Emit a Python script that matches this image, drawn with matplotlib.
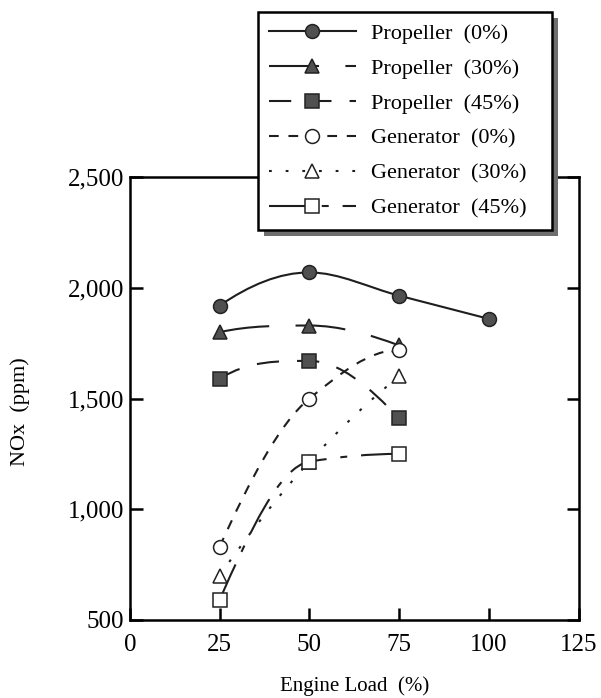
import numpy as np
import matplotlib
matplotlib.use('Agg')
import matplotlib.pyplot as plt
from matplotlib.path import Path
from matplotlib.patches import PathPatch, Rectangle
from matplotlib.lines import Line2D

plt.rcParams['font.family'] = ['Liberation Serif', 'DejaVu Serif']
plt.rcParams['lines.scale_dashes'] = False

# ============================================================
# DATA
# ============================================================
load = [25, 50, 75, 100]
prop_0 = [1920, 2070, 1965, 1860]
prop_30 = [1800, 1830, 1740]
prop_45 = [1590, 1670, 1410]
gen_0 = [830, 1500, 1720]
gen_30 = [700, 1215, 1600]
gen_45 = [590, 1215, 1250]

labels = ['Propeller  (0%)', 'Propeller  (30%)', 'Propeller  (45%)',
          'Generator  (0%)', 'Generator  (30%)', 'Generator  (45%)']
xticks = [0, 25, 50, 75, 100, 125]
yticks = [500, 1000, 1500, 2000, 2500]

line_col = '#1e1e1e'
fill_col = '#505050'


def smooth_path(xs, ys):
    # monotone (pchip-like) tangents, drawn by matplotlib as cubic Bezier segments
    x = np.asarray(xs, float)
    y = np.asarray(ys, float)
    h = np.diff(x)
    d = np.diff(y) / h
    n = len(x)
    m = np.zeros(n)
    for i in range(1, n - 1):
        if d[i - 1] * d[i] > 0:
            m[i] = 2 / (1 / d[i - 1] + 1 / d[i])
    m[0] = (3 * d[0] - d[1]) / 2
    m[-1] = (3 * d[-1] - d[-2]) / 2
    if m[0] * d[0] < 0:
        m[0] = 0
    if m[-1] * d[-1] < 0:
        m[-1] = 0
    verts = [(x[0], y[0])]
    codes = [Path.MOVETO]
    for i in range(n - 1):
        verts += [(x[i] + h[i] / 3, y[i] + m[i] * h[i] / 3),
                  (x[i + 1] - h[i] / 3, y[i + 1] - m[i + 1] * h[i] / 3),
                  (x[i + 1], y[i + 1])]
        codes += [Path.CURVE4] * 3
    return Path(verts, codes)


series = [
    (load, prop_0, '-', 'o', fill_col),
    (load[:3], prop_30, (0, (36, 19)), '^', fill_col),
    (load[:3], prop_45, (0, (16, 13)), 's', fill_col),
    (load[:3], gen_0, (0, (7, 7)), 'o', 'white'),
    (load[:3], gen_30, (0, (2, 10)), '^', 'white'),
    (load[:3], gen_45, (0, (28, 10, 5, 10)), 's', 'white'),
]

fig = plt.figure(figsize=(6.01, 6.98), dpi=100)
ax = fig.add_axes([0.216, 0.112, 0.747, 0.634])

handles = []
for (xs, ys, ls, mk, fc), lab in zip(series, labels):
    ax.add_patch(PathPatch(smooth_path(xs, ys), fill=False, edgecolor=line_col,
                           linewidth=1.5, linestyle=ls, zorder=2))
    ax.plot(xs, ys, linestyle='none', marker=mk, markersize=10,
            markerfacecolor=fc, markeredgecolor='#222222', markeredgewidth=1.1, zorder=3)
    handles.append(Line2D([], [], color=line_col, linewidth=1.5, linestyle=ls,
                          marker=mk, markersize=10, markerfacecolor=fc,
                          markeredgecolor='#222222', markeredgewidth=1.1))

ax.set_xlim(0, 125)
ax.set_ylim(500, 2500)
ax.set_xticks(xticks)
ax.set_yticks(yticks)
ax.set_yticklabels([f'{v:,}' for v in yticks])
ax.tick_params(direction='in', length=9, width=1.8, labelsize=18, pad=4,
               right=True, top=False)
ax.tick_params(axis='x', pad=10)
for sp in ax.spines.values():
    sp.set_linewidth(1.8)
ax.set_xlabel('Engine Load  (%)', fontsize=15, labelpad=15)
ax.set_ylabel('NOx  (ppm)', fontsize=16)
ax.yaxis.set_label_coords(-0.222, 0.47)

leg = fig.legend(handles=handles, labels=labels, loc='upper left',
                 bbox_to_anchor=(0.429, 0.5, 0.489, 0.483), mode='expand',
                 borderaxespad=0, fontsize=16, handlelength=3.9, handletextpad=0.7,
                 labelspacing=0.65, borderpad=0.5, fancybox=False,
                 framealpha=1, edgecolor='black')
leg.get_frame().set_linewidth(1.8)

# shadow behind the legend box
fig.canvas.draw()
bb = leg.get_window_extent()
W, H = fig.bbox.width, fig.bbox.height
fig.patches.append(Rectangle(((bb.x0 + 6) / W, (bb.y0 - 6) / H), bb.width / W, bb.height / H,
                             transform=fig.transFigure, facecolor='#6e6e6e',
                             edgecolor='none', zorder=4.9))

fig.savefig('out.png', dpi=100)
